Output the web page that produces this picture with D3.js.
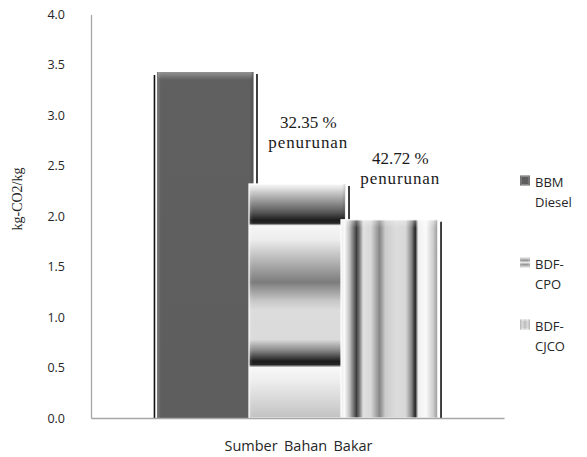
<!DOCTYPE html>
<html>
<head>
<meta charset="utf-8">
<script src="https://cdn.jsdelivr.net/npm/d3@7"></script>
<style>
  html, body { margin: 0; padding: 0; background: #fff; }
  svg { display: block; }
  .serif { font-family: "Liberation Serif", "Times New Roman", Times, serif; }
  .sans { font-family: "Open Sans", "Liberation Sans", sans-serif; }
</style>
</head>
<body>
<svg id="chart" width="587" height="457"></svg>
<script>
// ---- data ----
const categories = ["Sumber Bahan Bakar"];
const seriesNames = ["BBM Diesel", "BDF-CPO", "BDF-CJCO"];
const legendLines = [["BBM", "Diesel"], ["BDF-", "CPO"], ["BDF-", "CJCO"]];
const emissions = [3.43, 2.32, 1.965];
const reductionLabels = [null, "32.35 %", "42.72 %"];
const reductionWord = "penurunan";
const yTicks = [0, 0.5, 1.0, 1.5, 2.0, 2.5, 3.0, 3.5, 4.0];
const yTitle = "kg-CO2/kg";

// ---- layout ----
const plot = { left: 91, right: 504, top: 14.5, bottom: 418 };
const svg = d3.select("#chart");
const defs = svg.append("defs");

// fill patterns for each series
const fillIds = ["fillDiesel", "fillCPO", "fillCJCO"];

defs.append("linearGradient").attr("id", fillIds[0])
  .attr("x1", 0).attr("y1", 0).attr("x2", 0).attr("y2", 1)
  .selectAll("stop")
  .data([[0, "#606060"], [1, "#5e5e5e"]])
  .join("stop").attr("offset", d => d[0]).attr("stop-color", d => d[1]);

// horizontal banding (vertical gradient)
defs.append("linearGradient").attr("id", fillIds[1])
  .attr("x1", 0).attr("y1", 0).attr("x2", 0).attr("y2", 1)
  .selectAll("stop")
  .data([
    [0.00, "#f4f4f4"], [0.04, "#c4c4c4"], [0.12, "#595959"], [0.155, "#1c1c1c"],
    [0.168, "#262626"], [0.178, "#f6f6f6"], [0.24, "#ececec"], [0.42, "#7c7c7c"],
    [0.50, "#c8c8c8"], [0.54, "#dcdcdc"], [0.665, "#dadada"], [0.71, "#8a8a8a"],
    [0.758, "#1c1c1c"], [0.772, "#262626"], [0.784, "#f8f8f8"], [0.84, "#eeeeee"],
    [1.00, "#c2c2c2"]
  ])
  .join("stop").attr("offset", d => d[0]).attr("stop-color", d => d[1]);

// vertical striping (horizontal gradient)
defs.append("linearGradient").attr("id", fillIds[2])
  .attr("x1", 0).attr("y1", 0).attr("x2", 1).attr("y2", 0)
  .selectAll("stop")
  .data([
    [0.00, "#e8e8e8"], [0.036, "#fafafa"], [0.088, "#c0c0c0"], [0.16, "#3e3e3e"],
    [0.19, "#787878"], [0.23, "#e0e0e0"], [0.31, "#d8d8d8"], [0.40, "#868686"],
    [0.46, "#cccccc"], [0.57, "#dcdcdc"], [0.67, "#d8d8d8"], [0.73, "#888888"],
    [0.77, "#242424"], [0.80, "#f0f0f0"], [0.88, "#fafafa"], [1.00, "#b0b0b0"]
  ])
  .join("stop").attr("offset", d => d[0]).attr("stop-color", d => d[1]);

// small swatch fills used in the legend
defs.append("linearGradient").attr("id", "swCPO")
  .attr("x1", 0).attr("y1", 0).attr("x2", 0).attr("y2", 1)
  .selectAll("stop")
  .data([[0, "#d0d0d0"], [0.3, "#9a9a9a"], [0.5, "#e6e6e6"], [0.7, "#9a9a9a"], [1, "#d0d0d0"]])
  .join("stop").attr("offset", d => d[0]).attr("stop-color", d => d[1]);
defs.append("linearGradient").attr("id", "swCJCO")
  .attr("x1", 0).attr("y1", 0).attr("x2", 1).attr("y2", 0)
  .selectAll("stop")
  .data([[0, "#a8a8a8"], [0.25, "#d8d8d8"], [0.5, "#bdbdbd"], [0.75, "#d8d8d8"], [1, "#a8a8a8"]])
  .join("stop").attr("offset", d => d[0]).attr("stop-color", d => d[1]);
const swatchFills = ["url(#fillDiesel)", "url(#swCPO)", "url(#swCJCO)"];

// top bevel highlight
defs.append("linearGradient").attr("id", "bevelTop")
  .attr("x1", 0).attr("y1", 0).attr("x2", 0).attr("y2", 1)
  .selectAll("stop")
  .data([[0, "#ffffff", 0.32], [1, "#ffffff", 0]])
  .join("stop").attr("offset", d => d[0]).attr("stop-color", d => d[1]).attr("stop-opacity", d => d[2]);

// side bevel shading
defs.append("linearGradient").attr("id", "bevelSide")
  .attr("x1", 0).attr("y1", 0).attr("x2", 1).attr("y2", 0)
  .selectAll("stop")
  .data([[0, "#ffffff", 0.18], [0.04, "#ffffff", 0], [0.96, "#000000", 0], [1, "#000000", 0.15]])
  .join("stop").attr("offset", d => d[0]).attr("stop-color", d => d[1]).attr("stop-opacity", d => d[2]);

// ---- scales ----
const x0 = d3.scaleBand().domain(categories).range([plot.left, plot.right])
  .paddingInner(0).paddingOuter(0.248);
const x1 = d3.scaleBand().domain(seriesNames).range([0, x0.bandwidth()]).padding(0);
const y = d3.scaleLinear().domain([0, 4]).range([plot.bottom, plot.top]);

const bars = seriesNames.map((name, i) => ({
  name, value: emissions[i], i,
  x: x0(categories[0]) + x1(name) - 2.5,
  w: x1.bandwidth() + 4.5
}));

// ---- shadow edges behind bars ----
const shadows = svg.append("g");
bars.forEach(b => {
  shadows.append("line")
    .attr("x1", b.x - 2.5).attr("x2", b.x - 2.5)
    .attr("y1", y(b.value) + 3).attr("y2", y(0))
    .attr("stroke", "#111").attr("stroke-width", 1.6);
  shadows.append("line")
    .attr("x1", b.x + b.w + 3.5).attr("x2", b.x + b.w + 3.5)
    .attr("y1", y(b.value) + 2).attr("y2", y(0))
    .attr("stroke", "#111").attr("stroke-width", 1.6);
});

// ---- bars ----
const barG = svg.append("g");
bars.forEach(b => {
  const g = barG.append("g");
  g.append("rect")
    .attr("x", b.x).attr("y", y(b.value))
    .attr("width", b.w).attr("height", y(0) - y(b.value))
    .attr("fill", `url(#${fillIds[b.i]})`)
    .attr("stroke", b.i === 0 ? "none" : "#ffffff").attr("stroke-width", 1.2);
  g.append("rect")
    .attr("x", b.x).attr("y", y(b.value))
    .attr("width", b.w).attr("height", y(0) - y(b.value))
    .attr("fill", "url(#bevelSide)");
  g.append("rect")
    .attr("x", b.x + 1).attr("y", y(b.value))
    .attr("width", b.w - 2).attr("height", 8)
    .attr("fill", "url(#bevelTop)");
});

// ---- reduction annotations ----
const ann = svg.append("g").attr("class", "serif")
  .attr("font-size", 17).attr("fill", "#1a1a1a").attr("text-anchor", "middle");
bars.forEach(b => {
  if (!reductionLabels[b.i]) return;
  const cx = b.x + b.w / 2 + 11;
  ann.append("text").attr("class", "serif").attr("x", cx).attr("y", y(b.value) - 56)
    .text(reductionLabels[b.i]);
  ann.append("text").attr("class", "serif").attr("x", cx).attr("y", y(b.value) - 36)
    .style("letter-spacing", "0.9px")
    .text(reductionWord);
});

// ---- axes ----
const yAxis = svg.append("g")
  .attr("transform", `translate(${plot.left},0)`)
  .call(d3.axisLeft(y).tickValues(yTicks).tickFormat(d3.format(".1f"))
    .tickSize(0).tickSizeOuter(0).tickPadding(26));
yAxis.select(".domain").attr("stroke", "#a6a6a6").attr("stroke-width", 1.3);
yAxis.selectAll("text").attr("class", "sans")
  .attr("font-family", null).attr("font-size", 12.5)
  .attr("fill", "#262626");

const xAxis = svg.append("g")
  .attr("transform", `translate(0,${plot.bottom})`)
  .call(d3.axisBottom(x0).tickSize(0).tickSizeOuter(0).tickPadding(23));
xAxis.select(".domain").attr("stroke", "#a6a6a6").attr("stroke-width", 1.3);
xAxis.selectAll("text").attr("class", "sans")
  .attr("font-size", 14.5)
  .attr("fill", "#262626").style("word-spacing", "2.5px")
  .attr("dx", 1);
xAxis.attr("font-family", null);
yAxis.attr("font-family", null);

// y-axis title
svg.append("text").attr("class", "serif")
  .attr("transform", `translate(22,199) rotate(-90)`)
  .attr("text-anchor", "middle")
  .attr("font-size", 14).attr("fill", "#262626")
  .text(yTitle);

// ---- legend ----
const legendTops = [175.5, 257.5, 319.5];
const legend = svg.append("g").attr("class", "sans")
  .attr("font-size", 13).attr("fill", "#262626");
seriesNames.forEach((name, i) => {
  const g = legend.append("g").attr("transform", `translate(520,${legendTops[i]})`);
  g.append("rect").attr("width", 10).attr("height", 10)
    .attr("fill", swatchFills[i]);
  g.append("rect").attr("x", 1).attr("y", 1).attr("width", 8).attr("height", 8)
    .attr("fill", "none").attr("stroke", "#ffffff").attr("stroke-opacity", 0.35).attr("stroke-width", 0.8);
  const t = g.append("text").attr("x", 15).attr("y", 11);
  legendLines[i].forEach((line, j) => {
    t.append("tspan").attr("x", 15).attr("dy", j === 0 ? 0 : 20.6).text(line);
  });
});
</script>
</body>
</html>
